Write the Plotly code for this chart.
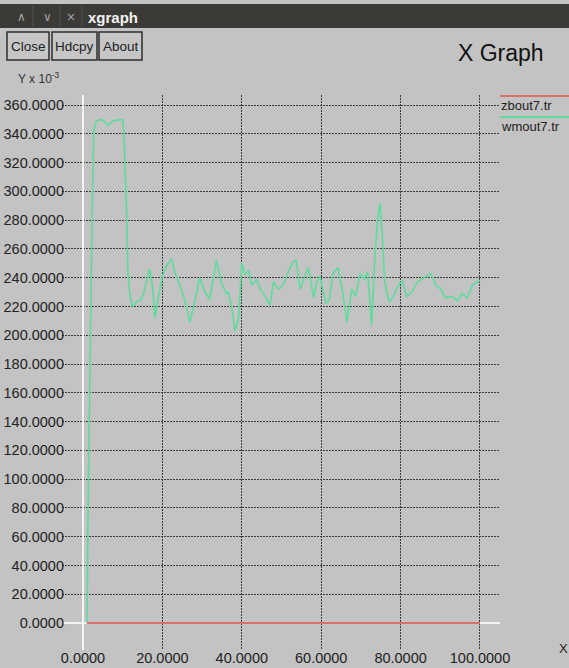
import plotly.graph_objects as go

# ---- data -------------------------------------------------------------
# wmout7.tr  (y values in units of 1e-3)
wm_x = [1.0, 1.3, 2.3, 2.7, 3.4, 4.7, 6.4, 7.6, 10.0, 10.3, 11.0, 11.3, 11.8,
        12.5, 13.5, 14.7, 15.5, 16.8, 17.6, 18.1, 18.9, 20.0, 21.0, 22.3,
        23.1, 24.4, 25.6, 26.9, 28.2, 29.4, 30.7, 31.9, 33.6, 34.9, 36.1,
        36.6, 37.5, 38.3, 39.2, 40.0, 40.8, 41.7, 42.5, 43.8, 44.6, 45.9,
        47.1, 48.0, 49.2, 50.5, 51.8, 53.0, 53.7, 54.7, 56.0, 56.8, 58.1,
        58.9, 59.7, 61.2, 62.1, 62.9, 64.2, 65.4, 66.5, 67.7, 68.7, 69.8,
        70.8, 71.7, 72.7, 73.5, 74.2, 74.8, 75.4, 76.0, 77.1, 78.2, 79.3,
        80.4, 81.5, 82.9, 84.2, 85.9, 87.6, 88.8, 90.1, 91.3, 93.0, 94.3,
        95.5, 96.8, 98.1, 99.3, 100.0]
wm_y = [0, 82, 285, 342, 349, 350, 346, 349, 350, 341, 284, 245, 228,
        220, 223, 225, 231, 246, 232, 212, 225, 241, 248, 253,
        244, 235, 225, 209, 224, 240, 230, 225, 252, 236, 229,
        230, 219, 203, 212, 250, 242, 245, 235, 239, 232, 227,
        221, 237, 232, 235, 245, 251, 252, 232, 242, 247, 226,
        237, 241, 222, 225, 243, 247, 230, 209, 232, 227, 243,
        239, 244, 207, 253, 280, 292, 269, 237, 223, 227, 234,
        238, 227, 230, 237, 240, 243, 235, 232, 226, 227, 224,
        229, 226, 235, 237, 238]

# zbout7.tr
zb_x = [1.0, 100.0]
zb_y = [0.0, 0.0]

x_ticks = [0, 20, 40, 60, 80, 100]
y_ticks = list(range(0, 361, 20))

series_names = ["zbout7.tr", "wmout7.tr"]
series_colors = ["#d9706a", "#5edc9c"]
buttons = ["Close", "Hdcpy", "About"]

# ---- page geometry ----------------------------------------------------
W, H = 569, 668
ML, MR, MT, MB = 62, 69, 95, 18
PW, PH = W - ML - MR, H - MT - MB
BG = "#c3c3c3"
FONT = "Liberation Sans, Arial, sans-serif"


def px(x):
    return (x - ML) / PW


def py(y):
    return (H - MB - y) / PH


fig = go.Figure()
fig.add_trace(go.Scatter(x=wm_x, y=wm_y, mode="lines", name=series_names[1],
                         line=dict(color=series_colors[1], width=1.6)))
fig.add_trace(go.Scatter(x=zb_x, y=zb_y, mode="lines", name=series_names[0],
                         line=dict(color=series_colors[0], width=2)))

grid = dict(showgrid=True, gridcolor="#3c3c3c", gridwidth=1, griddash="2px,1px",
            zeroline=True, zerolinecolor="#f4f4f4", zerolinewidth=2,
            showline=False, ticks="", tickformat=".4f", automargin=False,
            tickfont=dict(family=FONT, size=14.5, color="#222222"))

fig.update_xaxes(range=[-5.29, 105.04], tickvals=x_ticks,
                 ticklabelstandoff=-3, **grid)
fig.update_yaxes(range=[-18.76, 366.95], tickvals=y_ticks,
                 ticklabelstandoff=-3, **grid)

shapes = []
annotations = []

# window title bar
shapes.append(dict(type="rect", xref="paper", yref="paper",
                   x0=px(0), x1=px(W), y0=py(28), y1=py(4),
                   fillcolor="#3b3a36", line=dict(width=0)))
for sx in [33, 60, 82]:
    shapes.append(dict(type="line", xref="paper", yref="paper",
                       x0=px(sx), x1=px(sx), y0=py(26), y1=py(6),
                       line=dict(color="#54534e", width=1)))
for gx, glyph in [(21, "∧"), (47, "∨"), (71, "×")]:
    annotations.append(dict(xref="paper", yref="paper", x=px(gx), y=py(17),
                            text=glyph, showarrow=False, xanchor="center",
                            yanchor="middle",
                            font=dict(family="DejaVu Sans", size=12,
                                      color="#a5a5a5")))
annotations.append(dict(xref="paper", yref="paper", x=px(86), y=py(17),
                        text="<b>xgraph</b>", showarrow=False, xanchor="left",
                        yanchor="middle",
                        font=dict(family=FONT, size=15, color="#f2f2f2")))

# buttons
btn_edges = [(7, 49), (52, 97), (99, 142)]
for (bx0, bx1), label in zip(btn_edges, buttons):
    shapes.append(dict(type="rect", xref="paper", yref="paper",
                       x0=px(bx0), x1=px(bx1), y0=py(60), y1=py(32),
                       fillcolor="#c6c6c6",
                       line=dict(color="#2e2e2e", width=1.5)))
    annotations.append(dict(xref="paper", yref="paper", x=px((bx0 + bx1) / 2),
                            y=py(46), text=label, showarrow=False,
                            xanchor="center", yanchor="middle",
                            font=dict(family=FONT, size=13.5, color="#222222")))

# graph title and axis units
annotations.append(dict(xref="paper", yref="paper", x=px(456), y=py(53),
                        text="X Graph", showarrow=False, xanchor="left",
                        yanchor="middle",
                        font=dict(family=FONT, size=23, color="#111111")))
annotations.append(dict(xref="paper", yref="paper", x=px(16), y=py(78),
                        text="Y x 10<sup>-3</sup>", showarrow=False,
                        xanchor="left", yanchor="middle",
                        font=dict(family=FONT, size=12, color="#333333")))
annotations.append(dict(xref="paper", yref="paper", x=px(563), y=py(648),
                        text="X", showarrow=False, xanchor="center",
                        yanchor="middle",
                        font=dict(family=FONT, size=13, color="#222222")))

# legend: colour bar above each series name
for i, (name, color) in enumerate(zip(series_names, series_colors)):
    ly = 96 + 21 * i
    shapes.append(dict(type="line", xref="paper", yref="paper",
                       x0=px(500), x1=px(569), y0=py(ly), y1=py(ly),
                       line=dict(color=color, width=2)))
    annotations.append(dict(xref="paper", yref="paper", x=px(499),
                            y=py(ly + 9), text=name, showarrow=False,
                            xanchor="left", yanchor="middle",
                            font=dict(family=FONT, size=13, color="#222222")))

fig.update_layout(
    width=W, height=H,
    margin=dict(l=ML, r=MR, t=MT, b=MB, pad=0, autoexpand=False),
    paper_bgcolor=BG, plot_bgcolor=BG,
    showlegend=False,
    shapes=shapes, annotations=annotations,
    font=dict(family=FONT),
)

fig.write_html("out.html")
